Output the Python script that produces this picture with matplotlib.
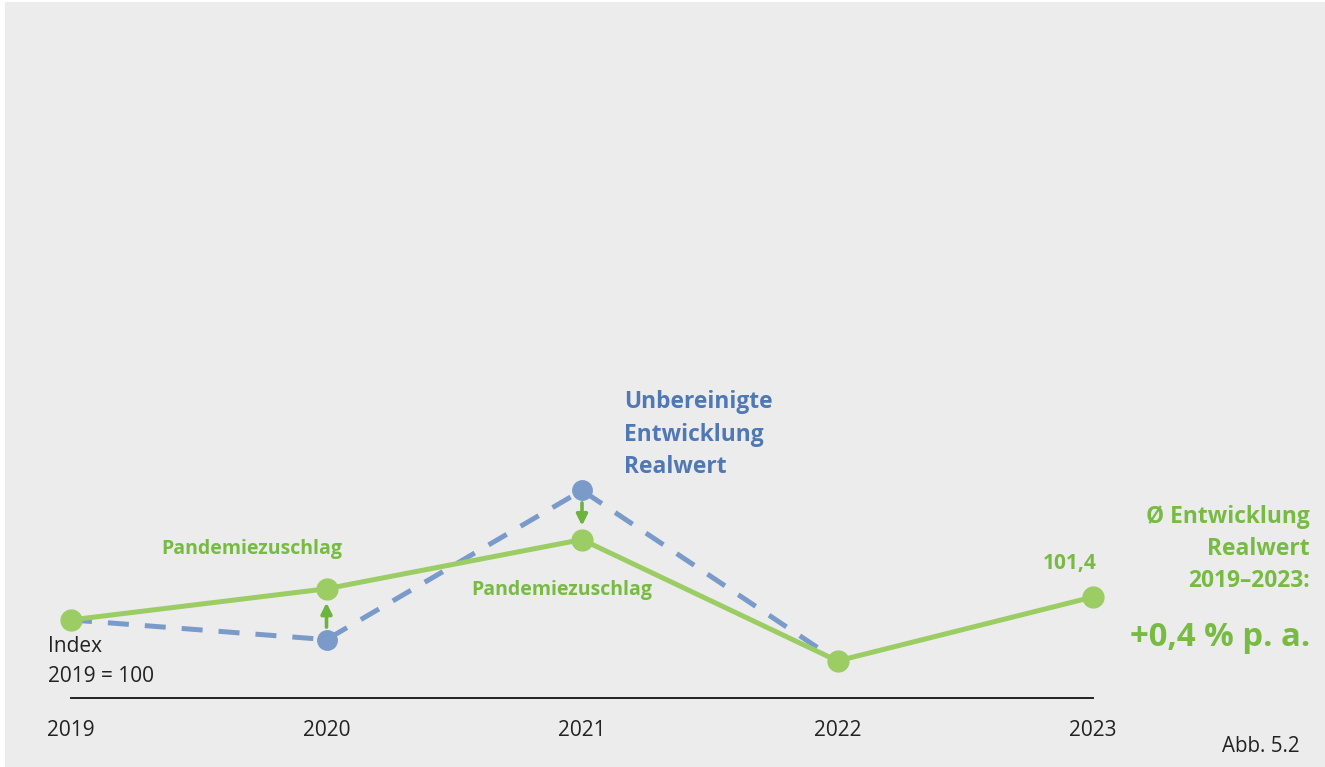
import matplotlib.pyplot as plt
from matplotlib.patches import Rectangle

# values (index 2019 = 100)
years = [2019, 2020, 2021, 2022, 2023]
adjusted = [100.0, 101.9, 104.9, 97.5, 101.4]      # green, incl. Pandemiezuschlag
unadjusted = [100.0, 98.8, 107.9, 97.5]            # blue dashed, 2019-2022
year_labels = ["2019", "2020", "2021", "2022", "2023"]

green = "#9ccd64"
green_txt = "#78bb42"
green_arrow = "#6db33f"
blue = "#7a9bc9"
blue_txt = "#5078b4"
dark = "#222222"
bg = "#ececec"

plt.rcParams['font.family'] = ['Open Sans', 'DejaVu Sans']

W, H = 1325, 767
fig = plt.figure(figsize=(W / 100, H / 100), dpi=100, facecolor="white")
fig.patches.append(Rectangle((5 / W, 0), 1, 1 - 2 / H, transform=fig.transFigure,
                             facecolor=bg, edgecolor="none", zorder=-10))


def px(x, y):
    return x / W, 1 - y / H


ax = fig.add_axes([71 / W, 69 / H, 1022 / W, 318 / H])
ax.set_facecolor("none")
ax.set_xlim(2019, 2023)
ax.set_ylim(95.24, 114.63)
for s in ["top", "left", "right"]:
    ax.spines[s].set_visible(False)
ax.spines["bottom"].set_color(dark)
ax.spines["bottom"].set_linewidth(1.4)
ax.set_yticks([])
ax.set_xticks(years)
ax.set_xticklabels(year_labels, fontsize=15, color=dark)
ax.tick_params(axis="x", length=0, pad=16)

ax.plot(years[:len(unadjusted)], unadjusted, color=blue, lw=3.6, dashes=(4.2, 3.2),
        marker="o", ms=14, markevery=[1, 2], clip_on=False, zorder=2)
ax.plot(years, adjusted, color=green, lw=3.6, marker="o", ms=15,
        clip_on=False, zorder=3)

# Pandemiezuschlag arrows from unadjusted to adjusted value
for i in [1, 2]:
    ax.annotate("", xy=(years[i], adjusted[i]), xytext=(years[i], unadjusted[i]),
                arrowprops=dict(arrowstyle="-|>", color=green_arrow, lw=2.6,
                                mutation_scale=16, shrinkA=9, shrinkB=10),
                zorder=4)


def line_text(x, ys, lines, **kw):
    for y, t in zip(ys, lines):
        fig.text(*px(x, y), t, va="center", **kw)


line_text(252, [549], ["Pandemiezuschlag"], color=green_txt, fontsize=14,
          ha="center", fontweight="bold")
line_text(562, [590], ["Pandemiezuschlag"], color=green_txt, fontsize=14,
          ha="center", fontweight="bold")
line_text(624, [402, 435, 467], ["Unbereinigte", "Entwicklung", "Realwert"],
          color=blue_txt, fontsize=16.4, ha="left", fontweight="bold")
line_text(1070, [564], ["101,4"], color=green_txt, fontsize=15,
          ha="center", fontweight="bold")
line_text(1310, [517, 549, 581], ["Ø Entwicklung", "Realwert", "2019–2023:"],
          color=green_txt, fontsize=16.4, ha="right", fontweight="bold")
line_text(1310, [638], ["+0,4 % p. a."], color=green_txt, fontsize=23.7,
          ha="right", fontweight="bold")
line_text(48, [647, 676], ["Index", "2019 = 100"], color=dark, fontsize=15,
          ha="left")
line_text(1300, [746], ["Abb. 5.2"], color=dark, fontsize=14.8, ha="right")

fig.savefig("out.png", dpi=100, facecolor="white")
